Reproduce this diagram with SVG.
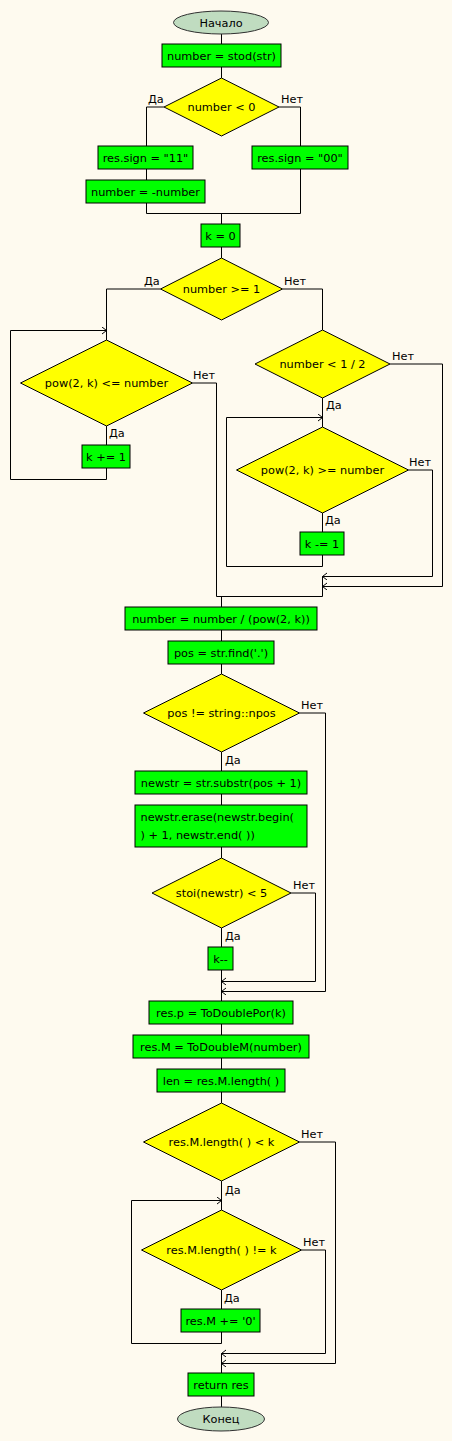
<svg xmlns="http://www.w3.org/2000/svg" width="452" height="1441" viewBox="0 0 452 1441">
<defs>
<marker id="arr" markerUnits="userSpaceOnUse" markerWidth="8" markerHeight="8" refX="4.5" refY="3.5" orient="auto">
<path d="M0,0 L4.5,3.5 L0,7" fill="none" stroke="#000" stroke-width="1"/>
</marker>
</defs>
<style>
.t{font-family:"DejaVu Sans","Verdana",sans-serif;font-size:11.3px;fill:#000}
.c{text-anchor:middle}
.b{fill:#00ff00;stroke:#000;stroke-width:1}
.d{fill:#ffff00;stroke:#000;stroke-width:1}
.e{fill:#c0dcc0;stroke:#303030;stroke-width:1}
.l{fill:none;stroke:#000;stroke-width:1}
</style>
<rect x="0" y="0" width="452" height="1441" fill="#fefaef"/>
<g id="connectors">
<path class="l" d="M221.5,34 V44"/>
<path class="l" d="M221.5,67 V78"/>
<path class="l" d="M164,107 H146.5 V146"/>
<path class="l" d="M146.5,169 V180"/>
<path class="l" d="M146.5,203 V213.5"/>
<path class="l" d="M279,107 H300.5 V146"/>
<path class="l" d="M300.5,169 V213.5 H146.5"/>
<path class="l" d="M221.5,213.5 V224"/>
<path class="l" d="M221.5,247 V258"/>
<path class="l" d="M160.5,289 H106.5 V340"/>
<path class="l" d="M106.5,426 V445"/>
<path class="l" d="M106.5,468 V479.5 H10.5 V330.5 H106.5" marker-end="url(#arr)"/>
<path class="l" d="M192.5,383 H216.5 V596.5"/>
<path class="l" d="M282.5,289 H322.5 V330"/>
<path class="l" d="M322.5,398 V427"/>
<path class="l" d="M322.5,513 V532"/>
<path class="l" d="M322.5,555 V566.5 H226.5 V417.5 H322.5" marker-end="url(#arr)"/>
<path class="l" d="M408.5,470 H432.5 V576.5 H322.5" marker-end="url(#arr)"/>
<path class="l" d="M390,364 H442.5 V586.5 H322.5" marker-end="url(#arr)"/>
<path class="l" d="M322.5,576.5 V596.5 H216.5"/>
<path class="l" d="M221.5,596.5 V607"/>
<path class="l" d="M221.5,630 V641"/>
<path class="l" d="M221.5,664 V674"/>
<path class="l" d="M221.5,752 V771"/>
<path class="l" d="M221.5,794 V805"/>
<path class="l" d="M221.5,847 V858"/>
<path class="l" d="M221.5,928 V947"/>
<path class="l" d="M221.5,970 V1001"/>
<path class="l" d="M291,893 H315.5 V981.5 H221.5" marker-end="url(#arr)"/>
<path class="l" d="M299.5,713 H325.5 V991.5 H221.5" marker-end="url(#arr)"/>
<path class="l" d="M221.5,1024 V1035"/>
<path class="l" d="M221.5,1058 V1069"/>
<path class="l" d="M221.5,1092 V1103"/>
<path class="l" d="M221.5,1181 V1210"/>
<path class="l" d="M221.5,1290 V1309"/>
<path class="l" d="M221.5,1332 V1343.5 H131.5 V1200.5 H221.5" marker-end="url(#arr)"/>
<path class="l" d="M301.5,1250 H325.5 V1353.5 H221.5" marker-end="url(#arr)"/>
<path class="l" d="M299.5,1142 H335.5 V1363.5 H221.5" marker-end="url(#arr)"/>
<path class="l" d="M221.5,1353.5 V1373"/>
<path class="l" d="M221.5,1396 V1407"/>
</g>
<g id="labels">
<text class="t" x="148" y="103">Да</text>
<text class="t" x="281" y="103">Нет</text>
<text class="t" x="144" y="285">Да</text>
<text class="t" x="284" y="285">Нет</text>
<text class="t" x="193" y="379">Нет</text>
<text class="t" x="109" y="437">Да</text>
<text class="t" x="392" y="360">Нет</text>
<text class="t" x="326" y="409">Да</text>
<text class="t" x="409" y="466">Нет</text>
<text class="t" x="325" y="524">Да</text>
<text class="t" x="301" y="709">Нет</text>
<text class="t" x="225" y="764">Да</text>
<text class="t" x="293" y="889">Нет</text>
<text class="t" x="225" y="940">Да</text>
<text class="t" x="301" y="1138">Нет</text>
<text class="t" x="225" y="1194">Да</text>
<text class="t" x="303" y="1246">Нет</text>
<text class="t" x="224" y="1302">Да</text>
</g>
<g id="start"><ellipse class="e" cx="221" cy="22.5" rx="47.5" ry="11.5"/><text class="t c" x="221" y="26.5">Начало</text></g>
<g id="n1"><rect class="b" x="162" y="44" width="119" height="23"/><text class="t c" x="221.5" y="60">number = stod(str)</text></g>
<g id="d1"><polygon class="d" points="221.5,78 279,107 221.5,136 164,107"/><text class="t c" x="221.5" y="111">number &lt; 0</text></g>
<g id="n2"><rect class="b" x="98" y="146" width="95" height="23"/><text class="t c" x="145.5" y="162">res.sign = "11"</text></g>
<g id="n3"><rect class="b" x="86" y="180" width="119" height="23"/><text class="t c" x="145.5" y="196">number = -number</text></g>
<g id="n4"><rect class="b" x="252" y="146" width="96" height="23"/><text class="t c" x="300" y="162">res.sign = "00"</text></g>
<g id="n5"><rect class="b" x="201" y="224" width="39" height="23"/><text class="t c" x="220.5" y="240">k = 0</text></g>
<g id="d2"><polygon class="d" points="221.5,258 282.5,289 221.5,320 160.5,289"/><text class="t c" x="221.5" y="293">number &gt;= 1</text></g>
<g id="d3"><polygon class="d" points="106.5,340 192.5,383 106.5,426 20.5,383"/><text class="t c" x="106.5" y="387">pow(2, k) &lt;= number</text></g>
<g id="n6"><rect class="b" x="82" y="445" width="48" height="23"/><text class="t c" x="106" y="461">k += 1</text></g>
<g id="d4"><polygon class="d" points="322.5,330 390,364 322.5,398 255,364"/><text class="t c" x="322.5" y="368">number &lt; 1 / 2</text></g>
<g id="d5"><polygon class="d" points="322.5,427 408.5,470 322.5,513 236.5,470"/><text class="t c" x="322.5" y="474">pow(2, k) &gt;= number</text></g>
<g id="n7"><rect class="b" x="300" y="532" width="44" height="23"/><text class="t c" x="322" y="548">k -= 1</text></g>
<g id="n8"><rect class="b" x="125" y="607" width="192" height="23"/><text class="t c" x="221" y="623">number = number / (pow(2, k))</text></g>
<g id="n9"><rect class="b" x="168" y="641" width="106" height="23"/><text class="t c" x="221" y="657">pos = str.find('.')</text></g>
<g id="d6"><polygon class="d" points="221.5,674 299.5,713 221.5,752 143.5,713"/><text class="t c" x="221.5" y="717">pos != string::npos</text></g>
<g id="n10"><rect class="b" x="135" y="771" width="172" height="23"/><text class="t c" x="221" y="787">newstr = str.substr(pos + 1)</text></g>
<g id="n11"><rect class="b" x="135" y="805" width="172" height="42"/><text class="t" x="140.5" y="821">newstr.erase(newstr.begin(</text><text class="t" x="140.5" y="839">) + 1, newstr.end( ))</text></g>
<g id="d7"><polygon class="d" points="221.5,858 291,893 221.5,928 152,893"/><text class="t c" x="221.5" y="897">stoi(newstr) &lt; 5</text></g>
<g id="n12"><rect class="b" x="208" y="947" width="25" height="23"/><text class="t c" x="220.5" y="963">k--</text></g>
<g id="n13"><rect class="b" x="149" y="1001" width="144" height="23"/><text class="t c" x="221" y="1017">res.p = ToDoublePor(k)</text></g>
<g id="n14"><rect class="b" x="133" y="1035" width="176" height="23"/><text class="t c" x="221" y="1051">res.M = ToDoubleM(number)</text></g>
<g id="n15"><rect class="b" x="157" y="1069" width="128" height="23"/><text class="t c" x="221" y="1085">len = res.M.length( )</text></g>
<g id="d8"><polygon class="d" points="221.5,1103 299.5,1142 221.5,1181 143.5,1142"/><text class="t c" x="221.5" y="1146">res.M.length( ) &lt; k</text></g>
<g id="d9"><polygon class="d" points="221.5,1210 301.5,1250 221.5,1290 141.5,1250"/><text class="t c" x="221.5" y="1254">res.M.length( ) != k</text></g>
<g id="n16"><rect class="b" x="181" y="1309" width="79" height="23"/><text class="t c" x="220.5" y="1325">res.M += '0'</text></g>
<g id="n17"><rect class="b" x="188" y="1373" width="66" height="23"/><text class="t c" x="221" y="1389">return res</text></g>
<g id="end"><ellipse class="e" cx="221" cy="1419" rx="43.5" ry="12"/><text class="t c" x="221" y="1423">Конец</text></g>
</svg>
